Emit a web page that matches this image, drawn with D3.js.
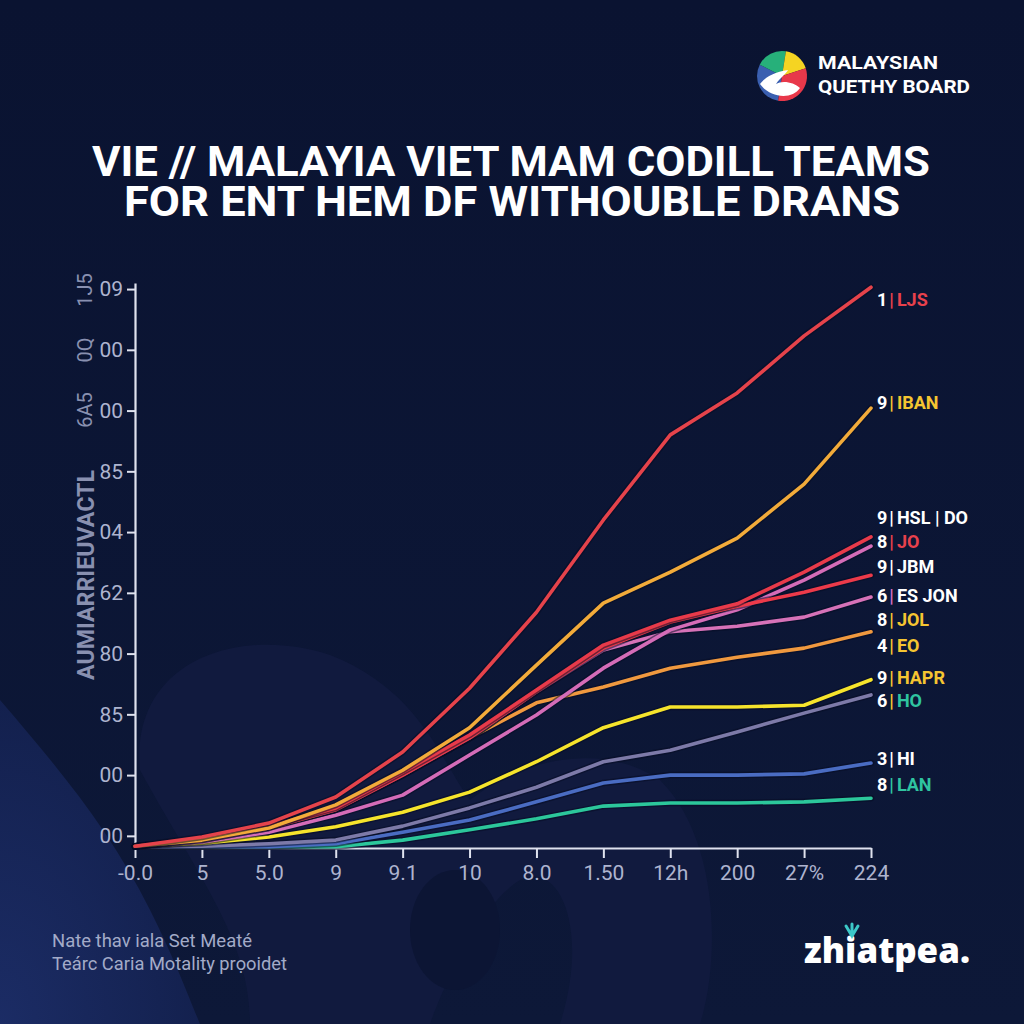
<!DOCTYPE html>
<html><head><meta charset="utf-8">
<script src="https://cdn.jsdelivr.net/npm/d3@7"></script>
<style>html,body{margin:0;padding:0;background:#0b1433;} svg{display:block}</style>
</head><body><svg id="c" width="1024" height="1024"></svg>
<script>
// ---------- data ----------
const xTickLabels = ["-0.0","5","5.0","9","9.1","10","8.0","1.50","12h","200","27%","224"];
const yTickLabels = ["00","00","85","80","62","04","85","00","00","09"];
const yTickValues = [2,12,22,32,42,52,62,72,82,92];

const seriesLJS   = [0.3,1.8,4.1,8.4,15.8,26.3,38.8,54.0,68.0,74.9,84.3,92.3];
const seriesIBAN  = [0.3,1.3,3.3,7.1,12.8,19.8,30.1,40.3,45.4,51.0,59.9,72.4];
const seriesJO    = [0.3,1.5,3.6,6.6,12.5,18.6,26.0,33.4,37.5,40.2,45.4,51.2];
const seriesDO    = [0.3,1.0,2.6,5.4,8.7,15.3,21.9,29.6,35.9,39.2,44.1,49.7];
const seriesJBM   = [0.3,1.3,3.3,6.3,12.0,18.1,25.7,32.9,37.2,39.8,42.1,44.9];
const seriesESJON = [0.3,1.3,3.3,6.3,12.0,18.1,25.7,32.6,35.6,36.5,38.0,41.3];
const seriesEO    = [0.3,1.3,3.3,6.3,12.0,18.1,23.9,26.5,29.6,31.4,32.9,35.6];
const seriesHAPR  = [0.3,0.8,1.8,3.5,5.9,9.2,14.2,19.8,23.2,23.2,23.5,27.7];
const seriesHO    = [0.2,0.3,0.7,1.3,3.6,6.6,10.0,14.2,16.1,19.1,22.2,25.2];
const seriesHI    = [0.2,0.2,0.2,0.7,2.6,4.6,7.6,10.7,12.0,12.0,12.2,14.0];
const seriesLAN   = [0.2,0.2,0.2,0.2,1.3,3.0,4.8,6.9,7.4,7.4,7.6,8.2];

const labelNums   = ["1","9","9","8","9","6","8","4","9","6","3","8"];
const labelNames  = ["LJS","IBAN","HSL | DO","JO","JBM","ES JON","JOL","EO","HAPR","HO","HI","LAN"];
const labelValues = [90.2,73.3,54.3,50.4,46.3,41.6,37.5,33.3,28.0,24.2,14.7,10.4];

// ---------- styles ----------
const seriesList = [
  {v: seriesLAN,   c: "#2cc79b"},
  {v: seriesHI,    c: "#4a6cc2"},
  {v: seriesHO,    c: "#7d7aa8"},
  {v: seriesHAPR,  c: "#f6e42c"},
  {v: seriesEO,    c: "#f0993f"},
  {v: seriesESJON, c: "#d672b8"},
  {v: seriesDO,    c: "#d46cb8"},
  {v: seriesJBM,   c: "#ec3a4a"},
  {v: seriesJO,    c: "#e83a4a"},
  {v: seriesIBAN,  c: "#f2ab3a"},
  {v: seriesLJS,   c: "#e5434b"}
];
const nameColors = ["#e8414c","#f5c531","#ffffff","#e8414c","#ffffff","#ffffff","#f5c531","#f5c531","#f5c531","#2fc4a0","#ffffff","#2fc4a0"];
const barColors  = ["#e8414c","#f5c531","#ffffff","#e8414c","#ffffff","#d06cc0","#f5c531","#f5c531","#f5c531","#f5c531","#ffffff","#2fc4a0"];

const svg = d3.select("#c");

// ---------- background ----------
const defs = svg.append("defs");
const lg = defs.append("linearGradient").attr("id","bg").attr("x1","0").attr("y1","0").attr("x2","0").attr("y2","1");
lg.append("stop").attr("offset","0").attr("stop-color","#0a1331");
lg.append("stop").attr("offset","1").attr("stop-color","#0d1838");
svg.append("rect").attr("width",1024).attr("height",1024).attr("fill","url(#bg)");
const cg = defs.append("radialGradient").attr("id","corner").attr("cx","0").attr("cy","1").attr("r","1");
cg.append("stop").attr("offset","0").attr("stop-color","#1f3170");
cg.append("stop").attr("offset","1").attr("stop-color","#152354");
svg.append("path").attr("d","M0,700 C60,770 110,830 150,910 C175,960 190,1000 200,1024 L0,1024 Z").attr("fill","url(#corner)").attr("opacity",0.8);
svg.append("path").attr("d","M140,770 C130,660 240,625 330,655 C420,690 440,760 470,800 C520,760 600,740 660,780 C720,840 720,960 700,1024 L560,1024 C590,930 560,860 520,880 C470,910 430,1024 430,1024 L250,1024 C250,940 200,880 140,770 Z").attr("fill","#121b3f").attr("opacity",0.9);
svg.append("ellipse").attr("cx",455).attr("cy",930).attr("rx",45).attr("ry",60).attr("fill","#0c1534");

// ---------- scales ----------
const x = d3.scaleLinear().domain([0, xTickLabels.length - 1]).range([135, 871]);
const y = d3.scaleLinear().domain([0, 93]).range([848, 283]);

// axes
const xAxis = d3.axisBottom(x).tickValues(d3.range(xTickLabels.length)).tickFormat(i => xTickLabels[i]).tickSize(10).tickSizeOuter(0).tickPadding(7);
const gx = svg.append("g").attr("transform","translate(0,848)").call(xAxis);
gx.select(".domain").attr("stroke","#dfe2ee").attr("stroke-width",2.2);
gx.selectAll(".tick line").attr("stroke","#dfe2ee").attr("stroke-width",2);
gx.selectAll(".tick text").attr("fill","#aeb4cf").attr("font-family","'Liberation Sans Narrow','Roboto',sans-serif").attr("font-size",21);

const yAxis = d3.axisLeft(y).tickValues(yTickValues).tickFormat((d,i) => yTickLabels[i]).tickSize(8).tickSizeOuter(0).tickPadding(4);
const gy = svg.append("g").attr("transform","translate(135,0)").call(yAxis);
gy.select(".domain").attr("stroke","#dfe2ee").attr("stroke-width",2.2);
gy.selectAll(".tick line").attr("stroke","#dfe2ee").attr("stroke-width",2);
gy.selectAll(".tick text").attr("fill","#aeb4cf").attr("font-family","'Liberation Sans Narrow','Roboto',sans-serif").attr("font-size",21);

// y title fragments
const yt = svg.append("g").attr("fill","#8990b0").attr("font-family","'Roboto',sans-serif").attr("font-weight","bold");
yt.append("text").attr("transform","translate(94,575) rotate(-90)").attr("text-anchor","middle").attr("font-size",24).attr("textLength",210).attr("lengthAdjust","spacingAndGlyphs").text("AUMIARRIEUVACTL");
yt.append("text").attr("transform","translate(92,410) rotate(-90)").attr("text-anchor","middle").attr("font-size",20).attr("font-weight","normal").text("6A5");
yt.append("text").attr("transform","translate(92,350) rotate(-90)").attr("text-anchor","middle").attr("font-size",20).attr("font-weight","normal").text("0Q");
yt.append("text").attr("transform","translate(92,290) rotate(-90)").attr("text-anchor","middle").attr("font-size",20).attr("font-weight","normal").text("1J5");

// ---------- lines ----------
const line = d3.line().x((d,i) => x(i)).y(d => y(d)).curve(d3.curveLinear);
const lg2 = svg.append("g");
seriesList.forEach(s => {
  lg2.append("path").attr("d", line(s.v)).attr("fill","none").attr("stroke","#070d24").attr("stroke-opacity",0.55).attr("stroke-width",6.5).attr("stroke-linejoin","round").attr("stroke-linecap","round");
  lg2.append("path").attr("d", line(s.v)).attr("fill","none").attr("stroke",s.c).attr("stroke-width",3.6).attr("stroke-linejoin","round").attr("stroke-linecap","round");
});

// ---------- right labels ----------
const lab = svg.append("g").attr("font-family","'Roboto','Liberation Sans',sans-serif").attr("font-weight","bold").attr("font-size",18);
labelNames.forEach((n,i) => {
  const t = lab.append("text").attr("x",877).attr("y",y(labelValues[i])).attr("dy","0.35em");
  t.append("tspan").attr("fill","#ffffff").text(labelNums[i]);
  t.append("tspan").attr("fill",barColors[i]).attr("dx",2).text("|");
  t.append("tspan").attr("fill",nameColors[i]).attr("dx",3).text(n);
});

// ---------- title ----------
const tg = svg.append("g").attr("fill","#ffffff").attr("font-family","'Roboto','Liberation Sans',sans-serif").attr("font-weight","bold").attr("font-size",42).attr("text-anchor","middle");
tg.append("text").attr("x",511).attr("y",176).attr("textLength",838).attr("lengthAdjust","spacingAndGlyphs").text("VIE // MALAYIA VIET MAM CODILL TEAMS");
tg.append("text").attr("x",512).attr("y",216).attr("textLength",776).attr("lengthAdjust","spacingAndGlyphs").text("FOR ENT HEM DF WITHOUBLE DRANS");

// ---------- top-right logo ----------
const logo = svg.append("g").attr("transform","translate(782,76)");
const arc = d3.arc().innerRadius(0).outerRadius(25);
const segs = [
  {a0:-Math.PI*0.95, a1:-Math.PI*0.35, c:"#3a5fb0"},
  {a0:-Math.PI*0.35, a1: Math.PI*0.05, c:"#27b07a"},
  {a0: Math.PI*0.05, a1: Math.PI*0.40, c:"#f5d422"},
  {a0: Math.PI*0.40, a1: Math.PI*1.05, c:"#e8384a"}
];
segs.forEach(s => logo.append("path").attr("d", arc({startAngle:s.a0, endAngle:s.a1})).attr("fill", s.c));
logo.append("path").attr("d","M-22,8 C-12,22 10,24 18,12 C12,6 0,4 -6,8 C-2,2 4,-2 6,-6 C-8,-4 -18,2 -22,8 Z").attr("fill","#ffffff");
const lt = svg.append("g").attr("fill","#ffffff").attr("font-family","'Roboto','Liberation Sans',sans-serif").attr("font-weight","bold").attr("font-size",19);
lt.append("text").attr("x",818).attr("y",69).attr("textLength",120).attr("lengthAdjust","spacingAndGlyphs").text("MALAYSIAN");
lt.append("text").attr("x",818).attr("y",93).attr("textLength",152).attr("lengthAdjust","spacingAndGlyphs").text("QUETHY BOARD");

// ---------- footnote ----------
const fn = svg.append("g").attr("fill","#a3abc8").attr("font-family","'Liberation Sans Narrow','Roboto',sans-serif").attr("font-size",18);
fn.append("text").attr("x",52).attr("y",947).attr("textLength",200).attr("lengthAdjust","spacingAndGlyphs").text("Nate thav iala Set Meaté");
fn.append("text").attr("x",52).attr("y",970).attr("textLength",235).attr("lengthAdjust","spacingAndGlyphs").text("Teárc Caria Motality prọoidet");

// ---------- bottom-right brand ----------
svg.append("text").attr("x",804).attr("y",963).attr("fill","#ffffff").attr("font-family","'Open Sans','Roboto',sans-serif").attr("font-weight","800").attr("font-size",36).attr("textLength",166).attr("lengthAdjust","spacingAndGlyphs").text("zhiatpea.");
svg.append("path").attr("d","M846,926 L852,936 L858,926 M852,924 L852,936").attr("fill","none").attr("stroke","#3cc8c8").attr("stroke-width",3).attr("stroke-linecap","round");
</script></body></html>
